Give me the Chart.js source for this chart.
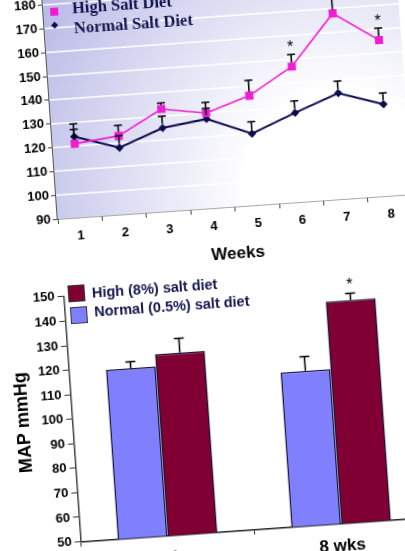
<!DOCTYPE html>
<html><head><meta charset="utf-8">
<script src="https://cdn.jsdelivr.net/npm/chart.js@4.4.1/dist/chart.umd.min.js"></script>
<style>
html,body{margin:0;padding:0;width:405px;height:551px;overflow:hidden;background:#fff;}
#stage{position:absolute;left:0;top:0;width:405px;height:551px;transform:rotate(-4deg);transform-origin:202.5px 275.5px;}
canvas{position:absolute;left:0;}
#c1{top:-40px;}
#c2{top:260px;}
.lg{position:absolute;white-space:nowrap;line-height:1;}
.serif{font-family:"Liberation Serif","Times New Roman",serif;font-weight:bold;font-size:16.5px;color:#12124e;}
.sans{font-family:"Liberation Sans",Arial,sans-serif;font-weight:bold;font-size:14.5px;color:#15154f;}
.mk{position:absolute;}
</style></head>
<body>
<div id="stage">
  <canvas id="c1" width="430" height="310"></canvas>
  <canvas id="c2" width="430" height="320"></canvas>
  <div class="mk" style="left:69px;top:-1.8px;width:8px;height:8px;background:#f01ed2;"></div>
  <div class="lg serif" style="left:91px;top:-8px;">High Salt Diet</div>
  <div class="mk" style="left:70.3px;top:13.3px;width:5px;height:5px;background:#0d0d4d;transform:rotate(45deg);"></div>
  <div class="lg serif" style="left:91.5px;top:11.5px;">Normal Salt Diet</div>
  <div class="mk" style="left:67px;top:276px;width:15px;height:15px;background:#800034;border:1px solid #333;"></div>
  <div class="lg sans" style="left:91px;top:277.8px;">High (8%) salt diet</div>
  <div class="mk" style="left:67.5px;top:298px;width:15px;height:15px;background:#8080ff;border:1px solid #333;"></div>
  <div class="lg sans" style="left:92px;top:297px;">Normal (0.5%) salt diet</div>
</div>
<script>
// ---- Line chart data (MAP by week) ----
const weeks = ['1','2','3','4','5','6','7','8'];
const highSalt      = [121, 123, 133, 130, 136, 147, 168, 155.5];
const highSaltErr   = [6, 4.5, 2.5, 4.5, 6.5, 5, 8, 5];
const highSaltSig   = [false, false, false, false, false, true, false, true];
const normalSalt    = [124, 118, 125, 127.5, 120, 127.5, 134.5, 128.5];
const normalSaltErr = [5.3, 5, 5, 4.5, 5, 5, 5, 4.7];
const normalSaltSig = [false, false, false, false, false, false, false, false];
const topYMin = 90, topYMax = 190, topYStep = 10;

// ---- Bar chart data ----
const barCats      = ['0 wks', '8 wks'];
const barNormal    = [119, 113];
const barNormalErr = [2.7, 5.8];
const barNormalSig = [false, false];
const barHigh      = [124, 140.5];
const barHighErr   = [5.8, 2.7];
const barHighSig   = [false, true];
const botYMin = 50, botYMax = 150, botYStep = 10;

const SANS = '"Liberation Sans", Arial, sans-serif';

const errorBars = {
  id: 'errorBars',
  afterDatasetsDraw(chart, args, opts) {
    const ctx = chart.ctx, y = chart.scales.y;
    ctx.save();
    (opts.sets || []).forEach(s => {
      const meta = chart.getDatasetMeta(s.index);
      const vals = chart.data.datasets[s.index].data;
      meta.data.forEach((el, i) => {
        const top = y.getPixelForValue(vals[i] + s.err[i]);
        const start = el.y - (s.skip || 0);
        ctx.strokeStyle = '#000';
        ctx.lineWidth = s.lw || 1.5;
        ctx.beginPath();
        ctx.moveTo(el.x, start); ctx.lineTo(el.x, top);
        ctx.moveTo(el.x - s.cap / 2, top); ctx.lineTo(el.x + s.cap / 2, top);
        ctx.stroke();
        if (s.sig && s.sig[i]) {
          ctx.fillStyle = '#000';
          ctx.font = '16px ' + SANS;
          ctx.textAlign = 'center';
          ctx.textBaseline = 'alphabetic';
          ctx.fillText('*', el.x, top - s.starGap);
        }
      });
    });
    ctx.restore();
  }
};

const plotBg = {
  id: 'plotBg',
  beforeDatasetsDraw(chart, args, opts) {
    if (!opts.on) return;
    const {ctx, chartArea: a} = chart;
    const cx = a.left + (a.right - a.left) * 0.8, cy = a.bottom - 14;
    const g = ctx.createRadialGradient(cx, cy, 0, cx, cy, 380);
    g.addColorStop(0, '#ffffff');
    g.addColorStop(0.25, '#ffffff');
    g.addColorStop(1, '#b0b0e4');
    ctx.save();
    ctx.fillStyle = g;
    ctx.fillRect(a.left, a.top, a.right - a.left, a.bottom - a.top);
    const y = chart.scales.y;
    ctx.strokeStyle = '#ffffff';
    ctx.lineWidth = 1.5;
    y.ticks.forEach(t => {
      const py = y.getPixelForValue(t.value);
      if (t.value === y.min) return;
      ctx.beginPath(); ctx.moveTo(a.left, py); ctx.lineTo(a.right, py); ctx.stroke();
    });
    ctx.restore();
  }
};

Chart.register(errorBars, plotBg);

new Chart(document.getElementById('c1'), {
  type: 'line',
  data: {
    labels: weeks,
    datasets: [
      { label: 'High Salt Diet', data: highSalt, borderColor: '#f01ed2', backgroundColor: '#f01ed2',
        borderWidth: 1.6, pointStyle: 'rect', pointRadius: 5.7, pointBorderWidth: 0, tension: 0 },
      { label: 'Normal Salt Diet', data: normalSalt, borderColor: '#0d0d4d', backgroundColor: '#0d0d4d',
        borderWidth: 2, pointStyle: 'rectRot', pointRadius: 4.2, pointBorderWidth: 0, tension: 0 }
    ]
  },
  options: {
    responsive: false, animation: false, devicePixelRatio: 1,
    layout: { padding: { top: 10.7, right: 12.8, left: 0, bottom: 0 } },
    plugins: {
      legend: { display: false }, tooltip: { enabled: false },
      plotBg: { on: true },
      errorBars: { sets: [
        { index: 1, err: normalSaltErr, sig: normalSaltSig, cap: 8, skip: 4, starGap: 3 },
        { index: 0, err: highSaltErr, sig: highSaltSig, cap: 8, skip: 4, starGap: 2 }
      ] }
    },
    scales: {
      x: {
        type: 'category', offset: true,
        grid: { offset: true, drawOnChartArea: false, tickLength: 5, color: '#444', lineWidth: 1 },
        border: { color: '#555', width: 1.5 },
        ticks: { color: '#000', padding: 6, font: { family: SANS, weight: 'bold', size: 13 }, maxRotation: 0 },
        title: { display: true, text: 'Weeks', color: '#000', font: { family: SANS, weight: 'bold', size: 17 }, padding: { top: 0, bottom: 3 } },
        afterFit(s) { s.height = 61; }
      },
      y: {
        min: topYMin, max: topYMax,
        grid: { color: 'rgba(255,255,255,0)', tickColor: '#444', tickLength: 5, drawOnChartArea: true },
        border: { color: '#555', width: 1.5 },
        ticks: { stepSize: topYStep, color: '#000', padding: 2, font: { family: SANS, weight: 'bold', size: 13 } },
        afterFit(s) { s.width = 62; }
      }
    }
  }
});

new Chart(document.getElementById('c2'), {
  type: 'bar',
  data: {
    labels: barCats,
    datasets: [
      { label: 'Normal (0.5%) salt diet', data: barNormal, backgroundColor: '#8080ff', borderColor: '#14143c',
        borderWidth: 1.5, categoryPercentage: 0.575, barPercentage: 1 },
      { label: 'High (8%) salt diet', data: barHigh, backgroundColor: '#800034', borderColor: '#14143c',
        borderWidth: 1.5, categoryPercentage: 0.575, barPercentage: 1 }
    ]
  },
  options: {
    responsive: false, animation: false, devicePixelRatio: 1,
    layout: { padding: { top: 26.9, right: 19.5, left: 0, bottom: 0 } },
    plugins: {
      legend: { display: false }, tooltip: { enabled: false },
      errorBars: { sets: [
        { index: 0, err: barNormalErr, sig: barNormalSig, cap: 10, skip: 0, starGap: 4 },
        { index: 1, err: barHighErr, sig: barHighSig, cap: 10, skip: 0, starGap: 4 }
      ] }
    },
    scales: {
      x: {
        grid: { offset: true, drawOnChartArea: false, tickLength: 5, color: '#333' },
        border: { color: '#222', width: 1.5 },
        ticks: { color: '#000', padding: 8, font: { family: SANS, weight: 'bold', size: 17 }, maxRotation: 0 },
        afterFit(s) { s.height = 47.5; }
      },
      y: {
        min: botYMin, max: botYMax,
        grid: { drawOnChartArea: false, tickLength: 6, color: '#333' },
        border: { color: '#444', width: 1.5 },
        ticks: { stepSize: botYStep, color: '#000', padding: 3, font: { family: SANS, weight: 'bold', size: 13 } },
        title: { display: true, text: 'MAP mmHg', color: '#000', font: { family: SANS, weight: 'bold', size: 18 }, padding: { top: 3, bottom: 0 } },
        afterFit(s) { s.width = 62.5; }
      }
    }
  }
});
</script>
</body></html>
